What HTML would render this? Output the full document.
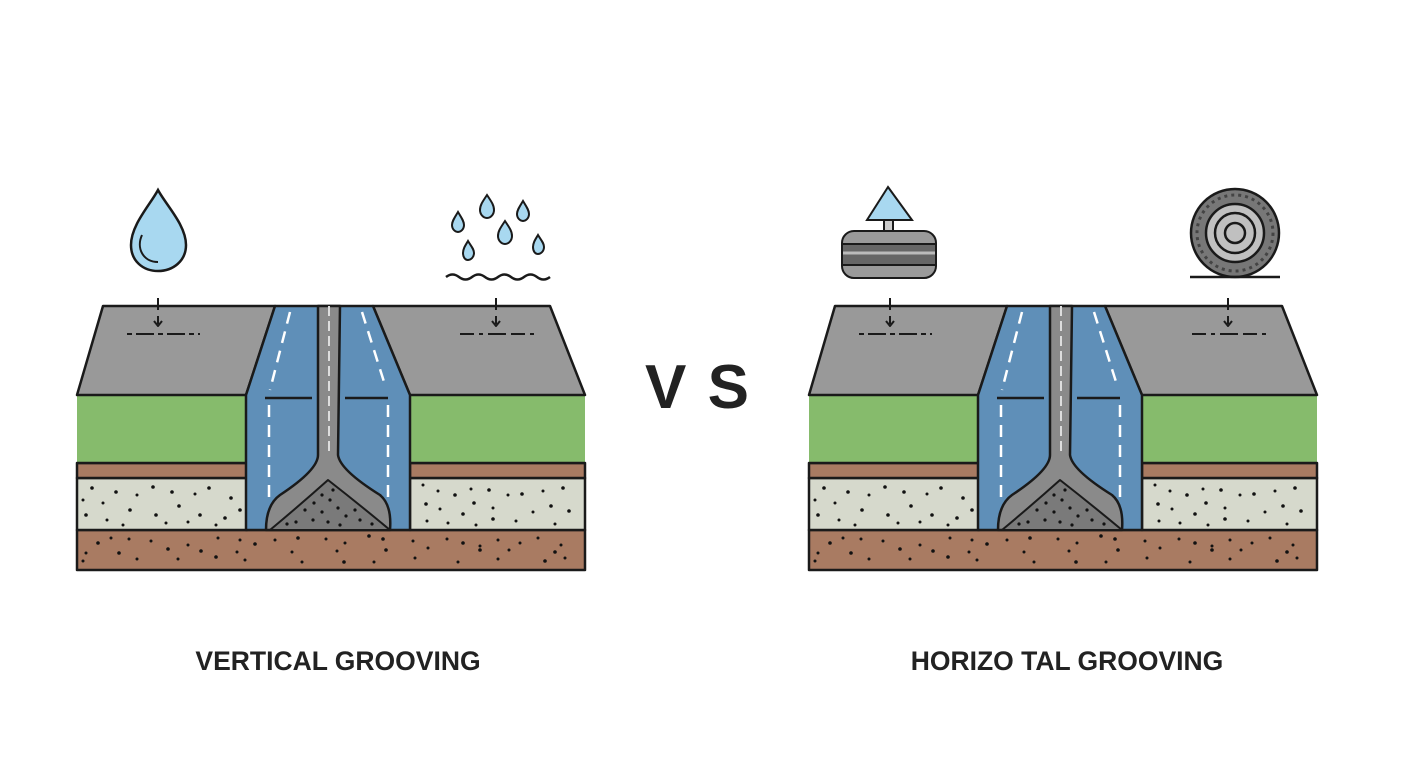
<!DOCTYPE html>
<html><head><meta charset="utf-8"><style>
html,body{margin:0;padding:0;background:#fff;}
svg{display:block;}
text{font-family:"Liberation Sans",sans-serif;font-weight:bold;fill:#222;}
</style></head><body>
<svg width="1408" height="768" viewBox="0 0 1408 768" xmlns="http://www.w3.org/2000/svg">
<defs>
<g id="sec" stroke="#1a1a1a" stroke-width="2.5" stroke-linejoin="round">
  <rect x="77" y="530" width="508" height="40" fill="#a97b62"/>
  <rect x="77" y="478" width="170" height="52" fill="#d6d9cc"/>
  <rect x="410" y="478" width="175" height="52" fill="#d6d9cc"/>
  <rect x="77" y="463" width="170" height="15" fill="#a97b62"/>
  <rect x="410" y="463" width="175" height="15" fill="#a97b62"/>
  <rect x="77" y="395" width="170" height="68" fill="#86bb6c" stroke="none"/>
  <rect x="410" y="395" width="175" height="68" fill="#86bb6c" stroke="none"/>
  <line x1="77" y1="463" x2="247" y2="463"/><line x1="410" y1="463" x2="585" y2="463"/>
  <polygon points="103,306 275,306 246,395 77,395" fill="#999"/>
  <polygon points="373,306 550,306 585,395 410,395" fill="#999"/>
  <polygon points="275,306 373,306 410,395 410,530 246,530 246,395" fill="#5f8fb8"/>
  <path d="M318,306 L340,306 L338,455 Q340,470 380,495 Q392,505 390,530 L266,530 Q266,505 280,495 Q318,470 318,455 Z" fill="#8a8a8a"/>
  <path d="M328,480 Q300,505 270,530 L390,530 Q360,505 328,480 Z" fill="#7a7a7a" stroke-width="2"/>
  <line x1="329" y1="306" x2="329" y2="455" stroke="#ddd" stroke-width="2" stroke-dasharray="10,5"/>
  <line x1="265" y1="398" x2="312" y2="398"/><line x1="345" y1="398" x2="388" y2="398"/>
  <path d="M290,312 L270,390" stroke="#fff" stroke-width="2.5" stroke-dasharray="12,8" fill="none"/>
  <path d="M362,312 L385,385" stroke="#fff" stroke-width="2.5" stroke-dasharray="12,8" fill="none"/>
  <line x1="269" y1="405" x2="269" y2="505" stroke="#fff" stroke-width="2.5" stroke-dasharray="12,8"/>
  <line x1="388" y1="405" x2="388" y2="505" stroke="#fff" stroke-width="2.5" stroke-dasharray="12,8"/>
  <g stroke-width="2">
  <line x1="158" y1="298" x2="158" y2="310"/>
  <line x1="158" y1="316" x2="158" y2="324"/><path d="M154,321 L158,326 L162,321" fill="none"/>
  <line x1="127" y1="334" x2="200" y2="334" stroke-dasharray="5,4,18,4"/>
  <line x1="496" y1="298" x2="496" y2="310"/>
  <line x1="496" y1="316" x2="496" y2="324"/><path d="M492,321 L496,326 L500,321" fill="none"/>
  <line x1="460" y1="334" x2="535" y2="334" stroke-dasharray="14,5,4,5,18,5"/>
  </g>
  <g fill="#111" stroke="none">
   <circle cx="92" cy="488" r="1.8"/><circle cx="116" cy="492" r="1.8"/><circle cx="137" cy="495" r="1.5"/><circle cx="153" cy="487" r="1.8"/><circle cx="172" cy="492" r="1.8"/><circle cx="195" cy="494" r="1.5"/><circle cx="209" cy="488" r="1.8"/><circle cx="231" cy="498" r="1.8"/><circle cx="83" cy="500" r="1.5"/><circle cx="103" cy="503" r="1.5"/><circle cx="130" cy="510" r="1.8"/><circle cx="179" cy="506" r="1.8"/><circle cx="86" cy="515" r="1.8"/><circle cx="107" cy="520" r="1.5"/><circle cx="156" cy="515" r="1.8"/><circle cx="166" cy="523" r="1.5"/><circle cx="188" cy="522" r="1.5"/><circle cx="200" cy="515" r="1.8"/><circle cx="225" cy="518" r="1.8"/><circle cx="216" cy="525" r="1.5"/><circle cx="240" cy="510" r="1.8"/><circle cx="123" cy="525" r="1.5"/>
   <circle cx="423" cy="485" r="1.5"/><circle cx="438" cy="491" r="1.5"/><circle cx="455" cy="495" r="1.8"/><circle cx="471" cy="489" r="1.5"/><circle cx="489" cy="490" r="1.8"/><circle cx="508" cy="495" r="1.5"/><circle cx="522" cy="494" r="1.8"/><circle cx="543" cy="491" r="1.5"/><circle cx="563" cy="488" r="1.8"/><circle cx="426" cy="504" r="1.8"/><circle cx="440" cy="509" r="1.5"/><circle cx="474" cy="503" r="1.8"/><circle cx="493" cy="508" r="1.5"/><circle cx="533" cy="512" r="1.5"/><circle cx="551" cy="506" r="1.8"/><circle cx="569" cy="511" r="1.8"/><circle cx="427" cy="521" r="1.5"/><circle cx="448" cy="523" r="1.5"/><circle cx="463" cy="514" r="1.8"/><circle cx="476" cy="525" r="1.5"/><circle cx="493" cy="519" r="1.8"/><circle cx="516" cy="521" r="1.5"/><circle cx="555" cy="524" r="1.5"/>
   <circle cx="98" cy="543" r="1.8"/><circle cx="111" cy="538" r="1.5"/><circle cx="129" cy="539" r="1.5"/><circle cx="151" cy="541" r="1.5"/><circle cx="168" cy="549" r="1.8"/><circle cx="188" cy="545" r="1.5"/><circle cx="218" cy="538" r="1.5"/><circle cx="240" cy="540" r="1.5"/><circle cx="255" cy="544" r="1.8"/><circle cx="275" cy="540" r="1.5"/><circle cx="298" cy="538" r="1.8"/><circle cx="326" cy="539" r="1.5"/><circle cx="345" cy="543" r="1.5"/><circle cx="369" cy="536" r="1.8"/><circle cx="383" cy="539" r="1.8"/><circle cx="413" cy="541" r="1.5"/><circle cx="447" cy="539" r="1.5"/><circle cx="463" cy="543" r="1.8"/><circle cx="498" cy="540" r="1.5"/><circle cx="520" cy="543" r="1.5"/><circle cx="538" cy="538" r="1.5"/><circle cx="561" cy="545" r="1.5"/><circle cx="86" cy="553" r="1.5"/><circle cx="119" cy="553" r="1.8"/><circle cx="201" cy="551" r="1.8"/><circle cx="237" cy="552" r="1.5"/><circle cx="292" cy="552" r="1.5"/><circle cx="337" cy="551" r="1.5"/><circle cx="386" cy="550" r="1.8"/><circle cx="428" cy="548" r="1.5"/><circle cx="480" cy="546" r="1.5"/><circle cx="480" cy="550" r="1.8"/><circle cx="509" cy="550" r="1.5"/><circle cx="555" cy="552" r="1.8"/><circle cx="83" cy="561" r="1.5"/><circle cx="137" cy="559" r="1.5"/><circle cx="178" cy="559" r="1.5"/><circle cx="216" cy="557" r="1.8"/><circle cx="245" cy="560" r="1.5"/><circle cx="302" cy="562" r="1.5"/><circle cx="344" cy="562" r="1.8"/><circle cx="374" cy="562" r="1.5"/><circle cx="415" cy="558" r="1.5"/><circle cx="458" cy="562" r="1.5"/><circle cx="498" cy="559" r="1.5"/><circle cx="545" cy="561" r="1.8"/><circle cx="565" cy="558" r="1.5"/>
   <circle cx="305" cy="510" r="1.6"/><circle cx="314" cy="503" r="1.6"/><circle cx="322" cy="512" r="1.6"/><circle cx="330" cy="500" r="1.6"/><circle cx="338" cy="508" r="1.6"/><circle cx="346" cy="516" r="1.6"/><circle cx="355" cy="510" r="1.6"/><circle cx="360" cy="520" r="1.6"/><circle cx="296" cy="522" r="1.6"/><circle cx="287" cy="524" r="1.6"/><circle cx="313" cy="520" r="1.6"/><circle cx="328" cy="522" r="1.6"/><circle cx="340" cy="525" r="1.6"/><circle cx="372" cy="524" r="1.6"/><circle cx="333" cy="490" r="1.6"/><circle cx="322" cy="495" r="1.6"/>
  </g>
</g>
</defs>

<use href="#sec"/>
<use href="#sec" transform="translate(732,0)"/>

<path d="M158,190 C150,205 131,225 131,245 C131,261 143,271 158,271 C173,271 186,261 186,245 C186,225 166,205 158,190 Z" fill="#a8d8f0" stroke="#1a1a1a" stroke-width="2.5"/>
<path d="M142,235 C136,248 143,262 158,262" fill="none" stroke="#1a1a1a" stroke-width="2"/>

<g fill="#a8d8f0" stroke="#1a1a1a" stroke-width="2">
<path d="M458,212 C455,217 452,221 452,225 C452,229 455,232 458,232 C461,232 464,229 464,225 C464,221 461,217 458,212Z"/>
<path d="M487,195 C483,201 480,205 480,210 C480,214 483,218 487,218 C491,218 494,214 494,210 C494,205 491,201 487,195Z"/>
<path d="M523,201 C520,206 517,210 517,214 C517,218 520,221 523,221 C526,221 529,218 529,214 C529,210 526,206 523,201Z"/>
<path d="M505,221 C501,227 498,231 498,236 C498,240 501,244 505,244 C509,244 512,240 512,236 C512,231 509,227 505,221Z"/>
<path d="M538,235 C535,240 533,243 533,247 C533,251 535,254 538,254 C541,254 544,251 544,247 C544,243 541,240 538,235Z"/>
<path d="M468,241 C465,246 463,249 463,253 C463,257 465,260 468,260 C471,260 474,257 474,253 C474,249 471,246 468,241Z"/>
</g>
<path d="M446,277 q6.5,-5 13,0 t13,0 t13,0 t13,0 t13,0 t13,0 t13,0 t13,0" fill="none" stroke="#1a1a1a" stroke-width="2.5"/>

<g stroke="#1a1a1a" stroke-width="2">
<polygon points="888,187 867,220 912,220" fill="#a8d8f0"/>
<rect x="884" y="220" width="9" height="11" fill="#ccc"/>
<rect x="842" y="231" width="94" height="47" rx="12" fill="#9a9a9a"/>
<rect x="843" y="244" width="92" height="21" fill="#666" stroke="none"/>
<line x1="843" y1="253" x2="935" y2="253" stroke="#bbb" stroke-width="3"/>
<line x1="843" y1="244" x2="935" y2="244"/><line x1="843" y1="265" x2="935" y2="265"/>
</g>
<g stroke="#1a1a1a" stroke-width="2.5">
<circle cx="1235" cy="233" r="44" fill="#777"/>
<circle cx="1235" cy="233" r="38" fill="none" stroke="#444" stroke-dasharray="3,4" stroke-width="3"/>
<circle cx="1235" cy="233" r="29" fill="#c0c0c0"/>
<circle cx="1235" cy="233" r="20" fill="#c0c0c0"/>
<circle cx="1235" cy="233" r="10" fill="#c0c0c0"/>
<line x1="1190" y1="277" x2="1280" y2="277"/>
</g>

<text x="698" y="408" font-size="62" text-anchor="middle" letter-spacing="2">V S</text>
<text x="338" y="670" font-size="26.5" text-anchor="middle">VERTICAL GROOVING</text>
<text x="1067" y="670" font-size="26.5" text-anchor="middle">HORIZO TAL GROOVING</text>
</svg>
</body></html>
